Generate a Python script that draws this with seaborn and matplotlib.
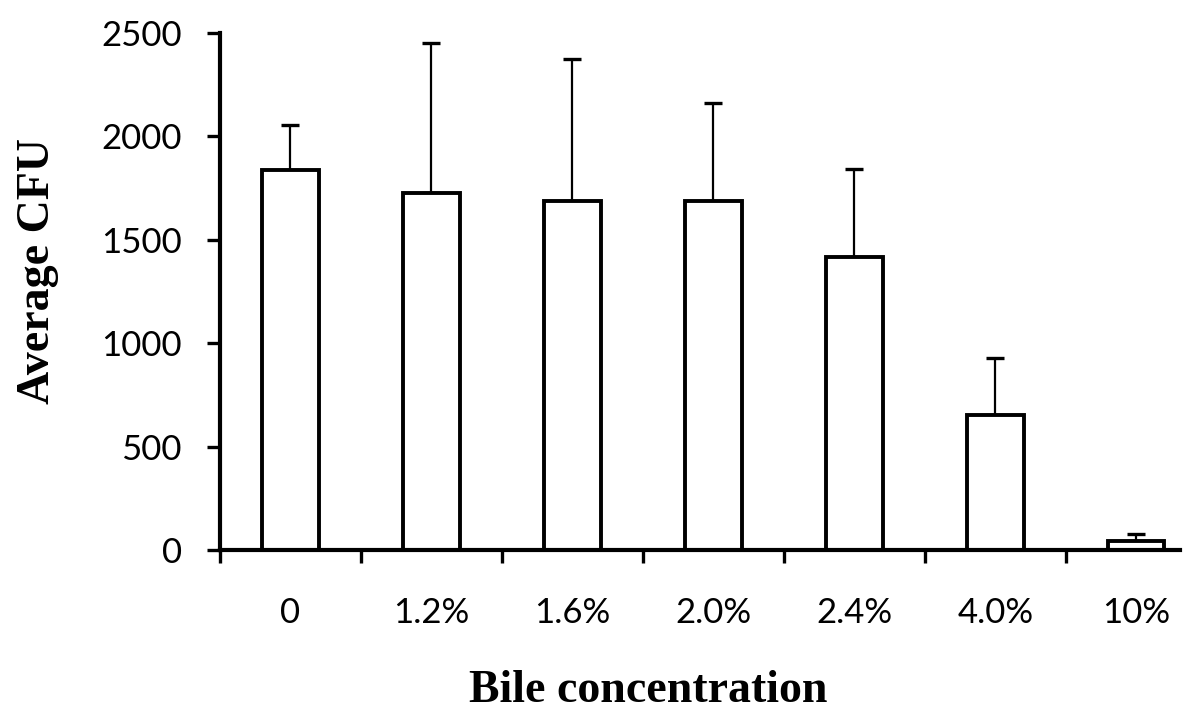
import matplotlib
matplotlib.use("Agg")
import matplotlib.pyplot as plt
import seaborn as sns
import numpy as np

# data
concentrations = ["0", "1.2%", "1.6%", "2.0%", "2.4%", "4.0%", "10%"]
avg_cfu = [1837, 1726, 1688, 1688, 1417, 653, 42]
err_up = [218, 725, 686, 473, 425, 275, 35]

sns.set_style("ticks", {"axes.edgecolor": "black", "text.color": "black",
                        "xtick.color": "black", "ytick.color": "black",
                        "axes.labelcolor": "black"})
plt.rcParams["font.family"] = ["Lato", "DejaVu Sans"]

fig = plt.figure(figsize=(12, 7.27), dpi=100)
ax = fig.add_axes([220 / 1200, 1 - 550 / 727, 960 / 1200, 517 / 727])

sns.barplot(x=concentrations, y=avg_cfu, color="white", edgecolor="black",
            linewidth=2.8, width=0.4, ax=ax, zorder=3)

xpos = np.arange(len(concentrations))
ax.errorbar(xpos, avg_cfu, yerr=[np.zeros(len(err_up)), err_up], fmt="none",
            ecolor="black", elinewidth=1.6, capsize=6.5, capthick=2.4, zorder=2)

ax.set_ylim(0, 2500)
ax.set_yticks(range(0, 2501, 500))
ax.set_xlim(-0.5, 6.31)

# spines
sns.despine(ax=ax)
for s in ["left", "bottom"]:
    ax.spines[s].set_linewidth(3)
    ax.spines[s].set_zorder(4)

# ticks: category labels without marks, boundary marks below the axis
ax.tick_params(axis="x", which="major", length=0, pad=34, labelsize=25)
ax.set_xticks(np.arange(-0.5, 6, 1), minor=True)
ax.tick_params(axis="x", which="minor", length=9, width=2.4, direction="out")
ax.tick_params(axis="y", length=9.5, width=2.4, direction="out", pad=18,
               labelsize=25)

serif = dict(family=["Liberation Serif", "DejaVu Serif"], weight="bold", size=33)
ax.set_xlabel("Bile concentration", fontdict=serif, va="center")
ax.xaxis.set_label_coords((648 - 220) / 960, (550 - 691) / 517)
ax.set_ylabel("Average CFU", fontdict=serif, va="center", ha="center")
ax.yaxis.set_label_coords((38 - 220) / 960, (550 - 271) / 517)

fig.savefig("out.png", dpi=100, facecolor="white")
